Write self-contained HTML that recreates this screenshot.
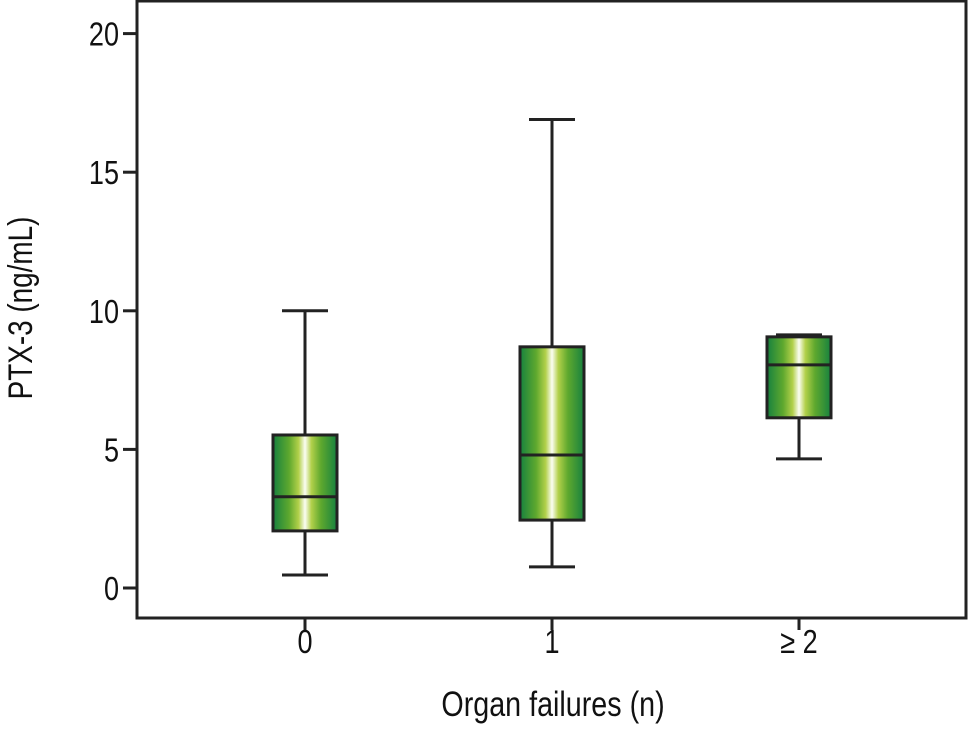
<!DOCTYPE html>
<html><head><meta charset="utf-8"><style>
body{margin:0;background:#fff}
svg text{font-family:"Liberation Sans",sans-serif;fill:#111}
</style></head><body>
<svg width="969" height="725">
<defs>
<linearGradient id="g" x1="0" x2="1" y1="0" y2="0">
<stop offset="0" stop-color="#16813f"/>
<stop offset="0.25" stop-color="#5ea82e"/>
<stop offset="0.4" stop-color="#b2d04a"/>
<stop offset="0.5" stop-color="#fbfdf3"/>
<stop offset="0.6" stop-color="#b2d04a"/>
<stop offset="0.75" stop-color="#5ea82e"/>
<stop offset="1" stop-color="#16813f"/>
</linearGradient>
</defs>
<g id="chart"></g>
</svg>
<script>
const categories=["0","1","\u2265 2"];
const lowW=[0.47,0.76,4.66];
const q1=[2.06,2.45,6.14];
const med=[3.29,4.8,8.05];
const q3=[5.52,8.7,9.06];
const highW=[10.0,16.9,9.13];
const yTicks=[0,5,10,15,20];

const NS="http://www.w3.org/2000/svg";
const g=document.getElementById('chart');
const L=137,R=966,T=1,B=618;
const y=v=>588-v*27.72;
const x=i=>305+i*247;
function mk(t,a,p){const e=document.createElementNS(NS,t);for(const k in a)e.setAttribute(k,a[k]);(p||g).appendChild(e);return e;}

const frame=mk('rect',{x:L,y:T,width:R-L,height:B-T,fill:'none',stroke:'#222','stroke-width':3});



yTicks.forEach(v=>{
  const tk=mk('line',{x1:L-14,x2:L,y1:y(v),y2:y(v),stroke:'#222','stroke-width':3});
  
  
  const t=mk('text',{x:0,y:0,'text-anchor':'end','font-size':33,transform:`translate(${L-18},${y(v)+12}) scale(0.82,1)`});
  t.textContent=v;
  
  
});

categories.forEach((c,i)=>{
  const cx=x(i);
  const tk=mk('line',{x1:cx,x2:cx,y1:B,y2:B+12,stroke:'#222','stroke-width':3});
  
  
  const t=mk('text',{x:0,y:0,'text-anchor':'middle','font-size':33,transform:`translate(${cx},653) scale(0.82,1)`});
  t.textContent=c;
  
  

  const grp=mk('g',{});
  
  
  mk('line',{x1:cx,x2:cx,y1:y(highW[i]),y2:y(q3[i]),stroke:'#222','stroke-width':3},grp);
  mk('line',{x1:cx,x2:cx,y1:y(q1[i]),y2:y(lowW[i]),stroke:'#222','stroke-width':3},grp);
  mk('line',{x1:cx-23,x2:cx+23,y1:y(highW[i]),y2:y(highW[i]),stroke:'#222','stroke-width':3},grp);
  mk('line',{x1:cx-23,x2:cx+23,y1:y(lowW[i]),y2:y(lowW[i]),stroke:'#222','stroke-width':3},grp);
  mk('rect',{x:cx-32,y:y(q3[i]),width:64,height:y(q1[i])-y(q3[i]),fill:'url(#g)',stroke:'#222','stroke-width':3},grp);
  mk('line',{x1:cx-32,x2:cx+32,y1:y(med[i]),y2:y(med[i]),stroke:'#222','stroke-width':3},grp);
});

const xt=mk('text',{x:0,y:0,'text-anchor':'middle','font-size':35,transform:'translate(553,716) scale(0.82,1)'});
xt.textContent='Organ failures (n)';


const yt=mk('text',{x:0,y:0,'text-anchor':'middle','font-size':34,transform:'translate(32,308) rotate(-90) scale(0.82,1)'});
yt.textContent='PTX-3 (ng/mL)';


</script>
</body></html>
